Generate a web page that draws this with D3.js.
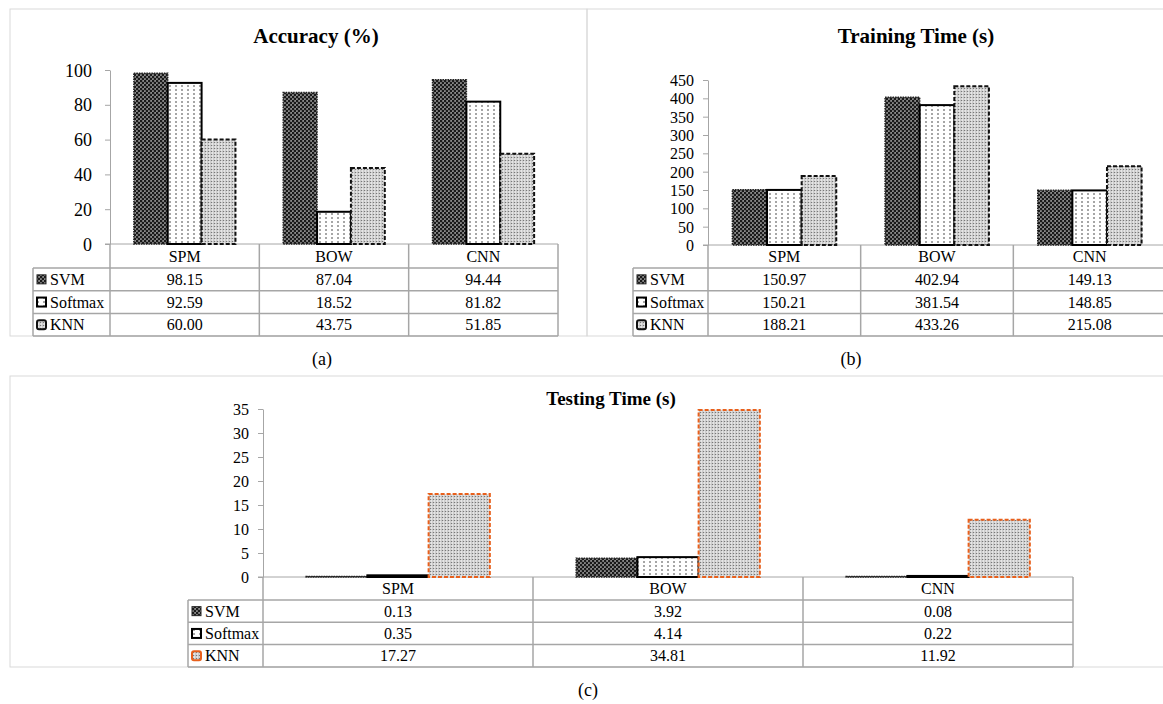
<!DOCTYPE html>
<html>
<head>
<meta charset="utf-8">
<script src="https://cdn.jsdelivr.net/npm/d3@7"></script>
<style>
body { margin: 0; background: #fff; overflow: hidden; }
text { font-family: "Liberation Serif", "Times New Roman", serif; fill: #000; }
</style>
</head>
<body>
<div id="box-div"></div>
<script>
// data
const categories = ['SPM', 'BOW', 'CNN']
const seriesNames = ['SVM', 'Softmax', 'KNN']

const accSVM = [98.15, 87.04, 94.44]
const accSoftmax = [92.59, 18.52, 81.82]
const accKNN = [60.00, 43.75, 51.85]
const accTicks = [0, 20, 40, 60, 80, 100]

const trainSVM = [150.97, 402.94, 149.13]
const trainSoftmax = [150.21, 381.54, 148.85]
const trainKNN = [188.21, 433.26, 215.08]
const trainTicks = [0, 50, 100, 150, 200, 250, 300, 350, 400, 450]

const testSVM = [0.13, 3.92, 0.08]
const testSoftmax = [0.35, 4.14, 0.22]
const testKNN = [17.27, 34.81, 11.92]
const testTicks = [0, 5, 10, 15, 20, 25, 30, 35]

const dms = { width: 1163, height: 704 }

const svg = d3.select('#box-div').append('svg')
    .attr('width', dms.width)
    .attr('height', dms.height)

// patterns
const defs = svg.append('defs')

const pSvm = defs.append('pattern').attr('id', 'pat-svm')
    .attr('patternUnits', 'userSpaceOnUse').attr('width', 4).attr('height', 4)
pSvm.append('rect').attr('width', 4).attr('height', 4).attr('fill', '#8a8a8a')
pSvm.append('circle').attr('cx', 1).attr('cy', 1).attr('r', 1.35).attr('fill', '#1a1a1a')
pSvm.append('circle').attr('cx', 3).attr('cy', 3).attr('r', 1.35).attr('fill', '#1a1a1a')

const pSoft = defs.append('pattern').attr('id', 'pat-soft')
    .attr('patternUnits', 'userSpaceOnUse').attr('width', 6).attr('height', 8)
pSoft.append('rect').attr('width', 6).attr('height', 8).attr('fill', '#fff')
pSoft.append('circle').attr('cx', 2).attr('cy', 2).attr('r', 0.75).attr('fill', '#222')
pSoft.append('circle').attr('cx', 2).attr('cy', 6).attr('r', 0.75).attr('fill', '#222')

const pKnn = defs.append('pattern').attr('id', 'pat-knn')
    .attr('patternUnits', 'userSpaceOnUse').attr('width', 3).attr('height', 3)
pKnn.append('rect').attr('width', 3).attr('height', 3).attr('fill', '#e6e6e6')
pKnn.append('circle').attr('cx', 1.5).attr('cy', 1.5).attr('r', 0.8).attr('fill', '#777')
pKnn.append('rect').attr('x', 0).attr('y', 0).attr('width', 0.6).attr('height', 3).attr('fill', '#bbb')

const panels = [
    {
        title: 'Accuracy (%)', caption: '(a)', series: [accSVM, accSoftmax, accKNN], ticks: accTicks,
        box: { x: 10, y: 9, w: 577, h: 327 }, titleX: 316, titleY: 43, titleSize: 21,
        capX: 322, capY: 365, tickSize: 18,
        x0: 110, x1: 558, yTop: 70, yBase: 244, pad: 13,
        legendX: 33, headH: 24, rowH: 22.7, knnColor: '#111'
    },
    {
        title: 'Training Time (s)', caption: '(b)', series: [trainSVM, trainSoftmax, trainKNN], ticks: trainTicks,
        box: { x: 587, y: 9, w: 700, h: 327 }, titleX: 916, titleY: 43, titleSize: 21,
        capX: 851, capY: 365, tickSize: 16,
        x0: 708, x1: 1166, yTop: 80, yBase: 245, pad: 9,
        legendX: 633, headH: 23, rowH: 22.7, knnColor: '#111'
    },
    {
        title: 'Testing Time (s)', caption: '(c)', series: [testSVM, testSoftmax, testKNN], ticks: testTicks,
        box: { x: 10, y: 376, w: 1300, h: 291 }, titleX: 611, titleY: 405, titleSize: 19,
        capX: 588, capY: 696, tickSize: 16,
        x0: 263, x1: 1073, yTop: 409, yBase: 577, pad: 9,
        legendX: 188, headH: 23, rowH: 22.3, knnColor: '#e8601c'
    }
]

const drawPanel = (p) => {
    const g = svg.append('g')

    g.append('rect')
        .attr('x', p.box.x).attr('y', p.box.y)
        .attr('width', p.box.w).attr('height', p.box.h)
        .attr('fill', 'none').attr('stroke', '#d9d9d9')

    g.append('text')
        .attr('x', p.titleX).attr('y', p.titleY)
        .attr('text-anchor', 'middle')
        .style('font-weight', 'bold')
        .style('font-size', p.titleSize + 'px')
        .text(p.title)

    const xScale = d3.scaleBand()
        .domain(categories)
        .range([p.x0, p.x1])

    const innerScale = d3.scaleBand()
        .domain(seriesNames)
        .range([0, xScale.bandwidth()])
        .paddingOuter(0.705)

    const yScale = d3.scaleLinear()
        .domain([0, d3.max(p.ticks)])
        .range([p.yBase, p.yTop])

    const fills = ['url(#pat-svm)', 'url(#pat-soft)', 'url(#pat-knn)']
    const strokes = ['#222', '#000', p.knnColor]
    const dashes = ['1.5,1', null, '4,2']
    const widths = [1.5, 2, 2]

    // x axis line
    g.append('line')
        .attr('x1', p.x0 - 5).attr('x2', p.x1)
        .attr('y1', p.yBase).attr('y2', p.yBase)
        .attr('stroke', '#a6a6a6')

    // bars
    seriesNames.forEach((s, i) => {
        g.append('g')
            .selectAll('rect')
            .data(p.series[i].map((v, j) => ({ cat: categories[j], v: v })))
            .join('rect')
            .attr('x', d => xScale(d.cat) + innerScale(s))
            .attr('y', d => yScale(d.v))
            .attr('width', innerScale.bandwidth())
            .attr('height', d => yScale(0) - yScale(d.v))
            .attr('fill', fills[i])
            .attr('stroke', strokes[i])
            .attr('stroke-width', widths[i])
            .attr('stroke-dasharray', dashes[i])
    })

    // y axis
    const yAxis = g.append('g')
        .attr('transform', `translate(${p.x0},0)`)
        .call(d3.axisLeft(yScale).tickValues(p.ticks).tickSize(5).tickSizeOuter(0).tickPadding(p.pad))
    yAxis.select('.domain').attr('stroke', '#a6a6a6')
    yAxis.selectAll('.tick line').attr('stroke', '#a6a6a6')
    yAxis.selectAll('.tick text')
        .style('font-size', p.tickSize + 'px')
        .style('font-family', '"Liberation Serif", "Times New Roman", serif')
        .attr('fill', '#000')
        .attr('dy', '0.34em')

    // data table
    const rowsTop = p.yBase + p.headH
    const bottom = rowsTop + 3 * p.rowH
    const grid = g.append('g').attr('stroke', '#a6a6a6').attr('stroke-width', 1.5)

    grid.append('line').attr('x1', p.x0).attr('x2', p.x0).attr('y1', p.yBase).attr('y2', bottom)
    categories.forEach(c => {
        const xr = xScale(c) + xScale.bandwidth()
        grid.append('line').attr('x1', xr).attr('x2', xr).attr('y1', p.yBase).attr('y2', bottom)
    })
    grid.append('line').attr('x1', p.legendX).attr('x2', p.legendX).attr('y1', rowsTop).attr('y2', bottom)
    for (let r = 0; r <= 3; r++) {
        const yy = rowsTop + r * p.rowH
        grid.append('line').attr('x1', p.legendX).attr('x2', p.x1).attr('y1', yy).attr('y2', yy)
    }

    g.selectAll('.head')
        .data(categories)
        .join('text')
        .attr('x', d => xScale(d) + xScale.bandwidth() / 2)
        .attr('y', p.yBase + p.headH / 2 + 5.5)
        .attr('text-anchor', 'middle')
        .style('font-size', '16px')
        .text(d => d)

    seriesNames.forEach((s, i) => {
        const cy = rowsTop + i * p.rowH + p.rowH / 2

        g.append('rect')
            .attr('x', p.legendX + 4).attr('y', cy - 4.5)
            .attr('width', 9).attr('height', 9)
            .attr('rx', i === 2 ? 2 : 0)
            .attr('fill', fills[i])
            .attr('stroke', strokes[i])
            .attr('stroke-width', i === 0 ? 1 : 2)

        g.append('text')
            .attr('x', p.legendX + 17)
            .attr('y', cy + 5.5)
            .style('font-size', '16px')
            .text(s)

        g.append('g')
            .selectAll('text')
            .data(p.series[i].map((v, j) => ({ cat: categories[j], v: v })))
            .join('text')
            .attr('x', d => xScale(d.cat) + xScale.bandwidth() / 2)
            .attr('y', cy + 5.5)
            .attr('text-anchor', 'middle')
            .style('font-size', '16px')
            .text(d => d3.format('.2f')(d.v))
    })

    svg.append('text')
        .attr('x', p.capX).attr('y', p.capY)
        .attr('text-anchor', 'middle')
        .style('font-size', '18px')
        .text(p.caption)
}

panels.forEach(drawPanel)
</script>
</body>
</html>
